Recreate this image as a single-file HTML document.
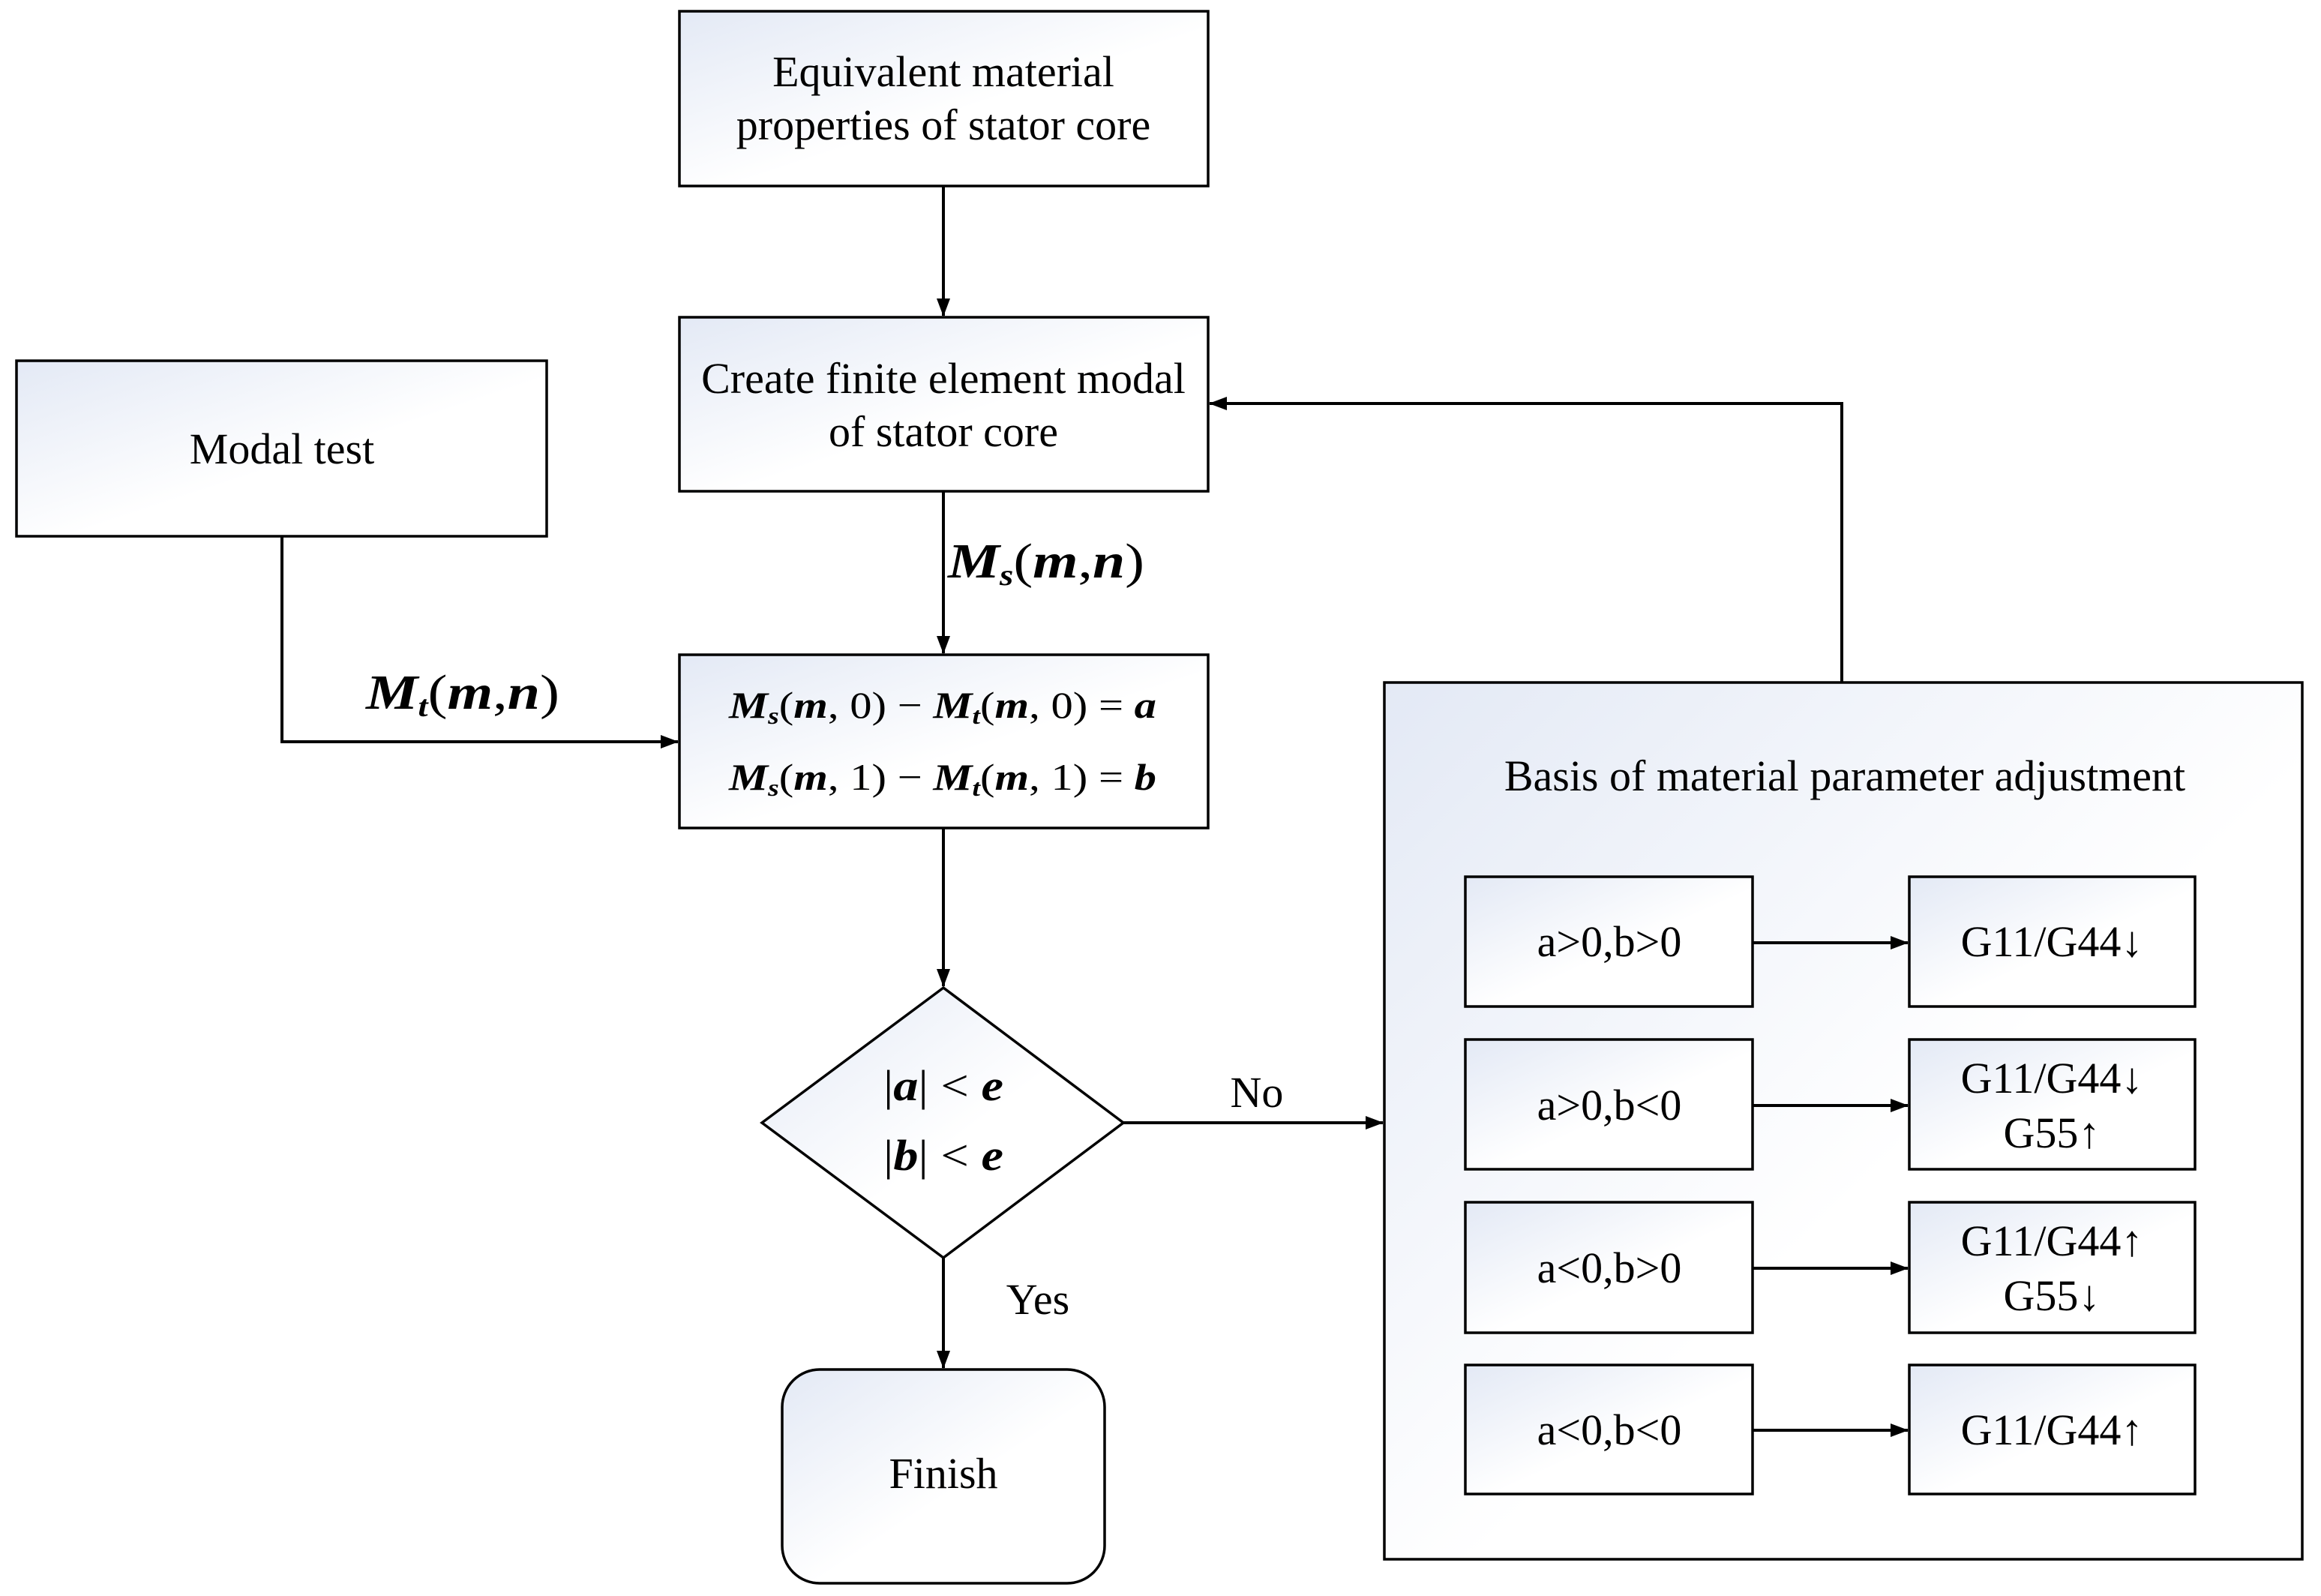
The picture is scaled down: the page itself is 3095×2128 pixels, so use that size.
<!DOCTYPE html>
<html><head><meta charset="utf-8"><style>
html,body{margin:0;padding:0;background:#fff;}
svg{display:block;}
text{font-family:"Liberation Serif","DejaVu Serif",serif;fill:#000;}
.t{font-size:58px;}
.m{font-size:50px;font-style:italic;font-weight:bold;}
.s{font-size:32px;font-style:italic;font-weight:bold;}
.r{font-style:normal;font-weight:normal;}
</style></head><body>
<svg width="3095" height="2128" viewBox="0 0 3095 2128" xmlns="http://www.w3.org/2000/svg">
<defs>
<linearGradient id="g" x1="0" y1="0" x2="1" y2="1">
<stop offset="0" stop-color="#e3e9f5"/><stop offset="0.55" stop-color="#ffffff"/><stop offset="1" stop-color="#ffffff"/>
</linearGradient>
<marker id="a" markerWidth="24" markerHeight="18" refX="23" refY="9" orient="auto" markerUnits="userSpaceOnUse" viewBox="0 0 24 18">
<path d="M0,0 L24,9 L0,18 z" fill="#000"/>
</marker>
</defs>
<style>.b{fill:url(#g);stroke:#000;stroke-width:3.5;} .l{stroke:#000;stroke-width:4;fill:none;}</style>

<rect class="b" x="906" y="15" width="705" height="233"/>
<text class="t" x="1258" y="115" text-anchor="middle">Equivalent material</text>
<text class="t" x="1258" y="186" text-anchor="middle">properties of stator core</text>

<rect class="b" x="906" y="423" width="705" height="232"/>
<text class="t" x="1258" y="524" text-anchor="middle">Create finite element modal</text>
<text class="t" x="1258" y="595" text-anchor="middle">of stator core</text>

<rect class="b" x="22" y="481" width="707" height="234"/>
<text class="t" x="376" y="618" text-anchor="middle">Modal test</text>

<rect class="b" x="906" y="873" width="705" height="231"/>
<text class="m" x="972" y="957" textLength="570" lengthAdjust="spacingAndGlyphs">M<tspan class="s" dy="8">s</tspan><tspan dy="-8" class="r">(</tspan>m<tspan class="r">, 0) − </tspan>M<tspan class="s" dy="8">t</tspan><tspan dy="-8" class="r">(</tspan>m<tspan class="r">, 0) = </tspan>a</text>
<text class="m" x="972" y="1053" textLength="570" lengthAdjust="spacingAndGlyphs">M<tspan class="s" dy="8">s</tspan><tspan dy="-8" class="r">(</tspan>m<tspan class="r">, 1) − </tspan>M<tspan class="s" dy="8">t</tspan><tspan dy="-8" class="r">(</tspan>m<tspan class="r">, 1) = </tspan>b</text>

<polygon class="b" points="1258,1317 1498,1497 1258,1677 1016,1497"/>
<text class="m" x="1258" y="1467" text-anchor="middle" textLength="160" lengthAdjust="spacingAndGlyphs" style="font-size:58px"><tspan class="r">|</tspan>a<tspan class="r">| &lt; </tspan>e</text>
<text class="m" x="1258" y="1560" text-anchor="middle" textLength="160" lengthAdjust="spacingAndGlyphs" style="font-size:58px"><tspan class="r">|</tspan>b<tspan class="r">| &lt; </tspan>e</text>

<rect class="b" x="1043" y="1826" width="430" height="285" rx="50" ry="50"/>
<text class="t" x="1258" y="1984" text-anchor="middle">Finish</text>

<rect class="b" x="1846" y="910" width="1224" height="1169"/>
<text class="t" x="2460" y="1054" text-anchor="middle">Basis of material parameter adjustment</text>

<g>
<rect class="b" x="1954" y="1169" width="383" height="173"/>
<rect class="b" x="2546" y="1169" width="381" height="173"/>
<rect class="b" x="1954" y="1386" width="383" height="173"/>
<rect class="b" x="2546" y="1386" width="381" height="173"/>
<rect class="b" x="1954" y="1603" width="383" height="174"/>
<rect class="b" x="2546" y="1603" width="381" height="174"/>
<rect class="b" x="1954" y="1820" width="383" height="172"/>
<rect class="b" x="2546" y="1820" width="381" height="172"/>
</g>
<text class="t" x="2146" y="1275" text-anchor="middle">a&gt;0,b&gt;0</text>
<text class="t" x="2146" y="1493" text-anchor="middle">a&gt;0,b&lt;0</text>
<text class="t" x="2146" y="1710" text-anchor="middle">a&lt;0,b&gt;0</text>
<text class="t" x="2146" y="1926" text-anchor="middle">a&lt;0,b&lt;0</text>
<text class="t" x="2736" y="1275" text-anchor="middle">G11/G44↓</text>
<text class="t" x="2736" y="1457" text-anchor="middle">G11/G44↓</text>
<text class="t" x="2736" y="1530" text-anchor="middle">G55↑</text>
<text class="t" x="2736" y="1674" text-anchor="middle">G11/G44↑</text>
<text class="t" x="2736" y="1747" text-anchor="middle">G55↓</text>
<text class="t" x="2736" y="1926" text-anchor="middle">G11/G44↑</text>

<line class="l" x1="1258" y1="248" x2="1258" y2="421" marker-end="url(#a)"/>
<line class="l" x1="1258" y1="655" x2="1258" y2="871" marker-end="url(#a)"/>
<polyline class="l" points="376,715 376,989 904,989" marker-end="url(#a)"/>
<line class="l" x1="1258" y1="1104" x2="1258" y2="1315" marker-end="url(#a)"/>
<line class="l" x1="1258" y1="1677" x2="1258" y2="1824" marker-end="url(#a)"/>
<line class="l" x1="1498" y1="1497" x2="1844" y2="1497" marker-end="url(#a)"/>
<polyline class="l" points="2456,910 2456,538 1613,538" marker-end="url(#a)"/>
<line class="l" x1="2337" y1="1257" x2="2544" y2="1257" marker-end="url(#a)"/>
<line class="l" x1="2337" y1="1474" x2="2544" y2="1474" marker-end="url(#a)"/>
<line class="l" x1="2337" y1="1691" x2="2544" y2="1691" marker-end="url(#a)"/>
<line class="l" x1="2337" y1="1907" x2="2544" y2="1907" marker-end="url(#a)"/>

<text class="m" x="1264" y="770" style="font-size:66px" textLength="262" lengthAdjust="spacingAndGlyphs">M<tspan class="s" dy="10" style="font-size:40px">s</tspan><tspan dy="-10" class="r">(</tspan>m<tspan class="r">,</tspan>n<tspan class="r">)</tspan></text>
<text class="m" x="488" y="945" style="font-size:66px" textLength="258" lengthAdjust="spacingAndGlyphs">M<tspan class="s" dy="10" style="font-size:40px">t</tspan><tspan dy="-10" class="r">(</tspan>m<tspan class="r">,</tspan>n<tspan class="r">)</tspan></text>
<text class="t" x="1676" y="1476" text-anchor="middle">No</text>
<text class="t" x="1384" y="1752" text-anchor="middle">Yes</text>
</svg>
</body></html>
